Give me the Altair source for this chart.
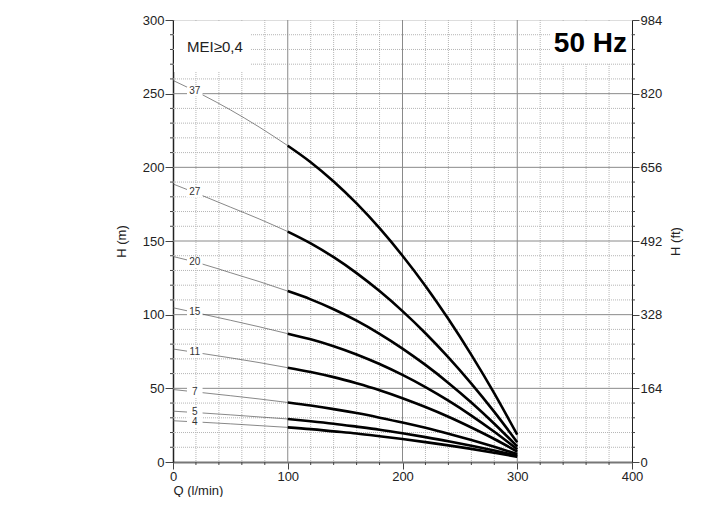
import altair as alt
import pandas as pd

# ---------------- data ----------------
pumps = ["37", "27", "20", "15", "11", "7", "5", "4"]

# thin (out-of-range) part of each curve
Q_thin = [0, 25, 50, 75, 100]
H_thin_37 = [259.0, 249.5, 239.0, 227.4, 214.7]
H_thin_27 = [188.7, 181.0, 173.0, 165.0, 156.4]
H_thin_20 = [139.5, 134.5, 128.5, 122.5, 116.0]
H_thin_15 = [104.7, 100.5, 96.2, 91.8, 87.1]
H_thin_11 = [76.7, 73.7, 70.7, 67.5, 64.0]
H_thin_7 = [49.2, 47.1, 45.0, 42.8, 40.4]
H_thin_5 = [34.5, 33.3, 32.0, 30.6, 29.2]
H_thin_4 = [28.0, 27.0, 25.9, 24.7, 23.5]

# thick (operating range) part of each curve
Q_thick = [100, 120, 140, 160, 180, 200, 220, 240, 260, 280, 300]
H_thick_37 = [214.7, 203.5, 190.4, 175.5, 158.7, 140.0, 119.5, 97.0, 72.7, 46.6, 18.5]
H_thick_27 = [156.4, 148.4, 139.0, 128.2, 116.0, 102.4, 87.4, 71.0, 53.2, 34.0, 13.4]
H_thick_20 = [116.0, 110.4, 103.7, 95.9, 87.0, 77.0, 65.9, 53.7, 40.4, 26.0, 10.5]
H_thick_15 = [87.1, 83.3, 78.6, 73.0, 66.5, 59.1, 50.8, 41.6, 31.5, 20.5, 8.6]
H_thick_11 = [64.0, 61.1, 57.6, 53.4, 48.7, 43.3, 37.3, 30.7, 23.4, 15.6, 7.1]
H_thick_7 = [40.4, 38.3, 35.9, 33.2, 30.1, 26.8, 23.2, 19.2, 14.9, 10.3, 5.4]
H_thick_5 = [29.2, 27.7, 26.0, 24.0, 21.9, 19.5, 16.9, 14.1, 11.0, 7.8, 4.3]
H_thick_4 = [23.5, 22.3, 20.8, 19.3, 17.5, 15.6, 13.5, 11.3, 8.9, 6.3, 3.6]

# curve labels
label_Q = [19, 19, 19, 19, 19, 19, 19, 19]
label_H = [251.5, 183.0, 135.5, 101.5, 74.5, 47.5, 33.6, 27.0]

# axes / grid values
x_ticks = [0, 100, 200, 300, 400]
y_ticks = [0, 50, 100, 150, 200, 250, 300]
ft_ticks = [0, 164, 328, 492, 656, 820, 984]
x_major_grid = [100, 200, 300]
y_major_grid = [50, 100, 150, 200, 250]
x_minor = [v for v in range(20, 400, 20) if v % 100 != 0]
y_minor = [v for v in range(10, 300, 10) if v % 50 != 0]

# ---------------- build tables ----------------
thin_sets = [H_thin_37, H_thin_27, H_thin_20, H_thin_15, H_thin_11, H_thin_7, H_thin_5, H_thin_4]
thick_sets = [H_thick_37, H_thick_27, H_thick_20, H_thick_15, H_thick_11, H_thick_7, H_thick_5, H_thick_4]
thin_rows, thick_rows = [], []
for p, hs in zip(pumps, thin_sets):
    for q, h in zip(Q_thin, hs):
        thin_rows.append({"Q": q, "H": h, "pump": p})
for p, hs in zip(pumps, thick_sets):
    for q, h in zip(Q_thick, hs):
        thick_rows.append({"Q": q, "H": h, "pump": p})
thin_df = pd.DataFrame(thin_rows)
thick_df = pd.DataFrame(thick_rows)
lab_df = pd.DataFrame({"Q": label_Q, "H": label_H, "label": pumps})

W, HGT = 459, 442
xs = alt.Scale(domain=[0, 400], nice=False, zero=True)
ys = alt.Scale(domain=[0, 300], nice=False, zero=True)
FONT = "Liberation Sans"
TXT = "#222222"

x_axis = alt.Axis(values=x_ticks, title="Q (l/min)", grid=False, tickSize=7, tickColor="#444",
                  domainColor="#777", domainWidth=2, labelFontSize=13, labelColor=TXT,
                  labelFont=FONT, labelPadding=1, labelFlush=False, titleFont=FONT,
                  titleFontSize=13, titleFontWeight="normal", titleColor=TXT,
                  titleAnchor="start", titlePadding=1)
y_axis = alt.Axis(values=y_ticks, title="H (m)", grid=False, tickSize=8, tickColor="#444",
                  domainColor="#222", domainWidth=1.5, labelFontSize=13, labelColor=TXT,
                  labelFont=FONT, labelPadding=1, labelFlush=False, titleFont=FONT,
                  titleFontSize=13, titleFontWeight="normal", titleColor=TXT, titlePadding=14)


def X(field):
    return alt.X(field, scale=xs, axis=x_axis)


def Y(field):
    return alt.Y(field, scale=ys, axis=y_axis)


one = pd.DataFrame({"a": [0]})

# grid
g_xmin = alt.Chart(pd.DataFrame({"gx": x_minor})).mark_rule(
    color="#b5b5b5", strokeWidth=1, strokeDash=[1, 1]).encode(x=X("gx:Q"))
g_ymin = alt.Chart(pd.DataFrame({"gy": y_minor})).mark_rule(
    color="#b5b5b5", strokeWidth=1, strokeDash=[1, 1]).encode(y=Y("gy:Q"))
g_xmaj = alt.Chart(pd.DataFrame({"gx": x_major_grid})).mark_rule(
    color="#8a8a8a", strokeWidth=1).encode(x=X("gx:Q"))
g_ymaj = alt.Chart(pd.DataFrame({"gy": y_major_grid})).mark_rule(
    color="#8a8a8a", strokeWidth=1).encode(y=Y("gy:Q"))

# minor ticks outside the frame
t_left = alt.Chart(pd.DataFrame({"gy": y_minor})).mark_rule(color="#444", strokeWidth=1).encode(
    y=Y("gy:Q"), x=alt.value(-3), x2=alt.value(0))
t_right = alt.Chart(pd.DataFrame({"gy": y_minor})).mark_rule(color="#444", strokeWidth=1).encode(
    y=Y("gy:Q"), x=alt.value(W), x2=alt.value(W + 3))
t_bottom = alt.Chart(pd.DataFrame({"gx": x_minor})).mark_rule(color="#444", strokeWidth=1).encode(
    x=X("gx:Q"), y=alt.value(HGT), y2=alt.value(HGT + 3))

# white boxes behind the annotations
box_mei = alt.Chart(one).mark_rect(color="white").encode(
    x=alt.value(1), x2=alt.value(77), y=alt.value(1), y2=alt.value(52))
box_hz = alt.Chart(one).mark_rect(color="white").encode(
    x=alt.value(377), x2=alt.value(W - 1), y=alt.value(1), y2=alt.value(43))

txt_mei = alt.Chart(one).mark_text(
    text="MEI≥0,4", font=FONT, fontSize=15, color=TXT, align="left", baseline="alphabetic"
).encode(x=alt.value(14), y=alt.value(32))
txt_hz = alt.Chart(one).mark_text(
    text="50 Hz", font=FONT, fontSize=28, fontWeight="bold", color="black",
    align="right", baseline="alphabetic"
).encode(x=alt.value(454), y=alt.value(32))

thin = alt.Chart(thin_df).mark_line(interpolate="monotone", color="#555", strokeWidth=0.7).encode(
    x=X("Q:Q"), y=Y("H:Q"), detail="pump:N")

thick = alt.Chart(thick_df).mark_line(interpolate="monotone", color="black", strokeWidth=2.6).encode(
    x=X("Q:Q"), y=Y("H:Q"), detail="pump:N")

lab_bg = alt.Chart(lab_df).mark_point(
    shape="M-1.1,-0.7H1.1V0.7H-1.1Z", filled=True, fill="white", stroke="white",
    strokeWidth=0, opacity=1, fillOpacity=1, size=200
).encode(x=X("Q:Q"), y=Y("H:Q"))
lab_txt = alt.Chart(lab_df).mark_text(font=FONT, fontSize=10).encode(
    x=X("Q:Q"), y=Y("H:Q"), text="label:N", color=alt.value("#333333"))

main = alt.layer(g_xmin, g_ymin, g_xmaj, g_ymaj, box_mei, box_hz, t_left, t_right, t_bottom,
                 thin, lab_bg, lab_txt, thick, txt_mei, txt_hz)

ft_axis = alt.Axis(orient="right", values=ft_ticks, title="H (ft)", grid=False, tickSize=7,
                   tickColor="#444", domainColor="#222", domainWidth=1, labelFontSize=13,
                   labelColor=TXT, labelFont=FONT, labelPadding=1, labelFlush=False,
                   titleFont=FONT, titleFontSize=13, titleFontWeight="normal", titleColor=TXT,
                   titleAngle=270, titleBaseline="top", titlePadding=8)
right = alt.Chart(pd.DataFrame({"ft": [0, 984]})).mark_point(opacity=0).encode(
    y=alt.Y("ft:Q", scale=alt.Scale(domain=[0, 984], nice=False, zero=True), axis=ft_axis))

chart = alt.layer(main, right).resolve_scale(y="independent").properties(
    width=W, height=HGT,
    autosize=alt.AutoSizeParams(type="none"),
    padding={"left": 165, "top": 12, "right": 58, "bottom": 35},
).configure_view(stroke="#777", strokeWidth=1).configure(font=FONT)

chart.save("out.html", embed_options={"renderer": "svg", "actions": False})
